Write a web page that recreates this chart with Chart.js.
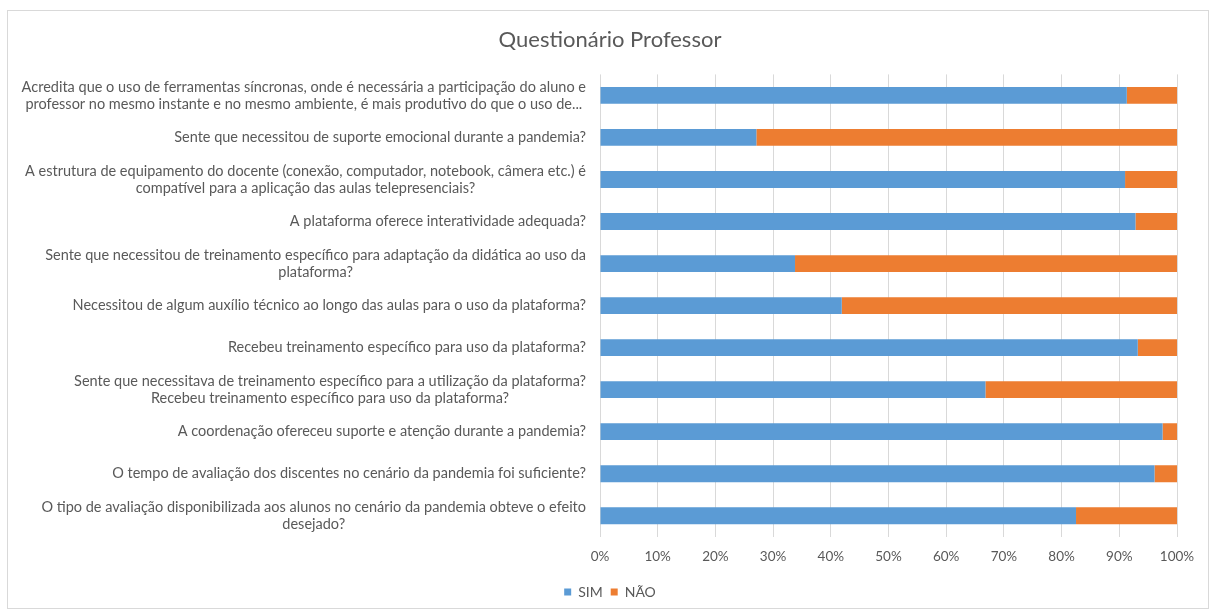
<!DOCTYPE html>
<html>
<head>
<meta charset="utf-8">
<script src="https://cdn.jsdelivr.net/npm/chart.js@4"></script>
<style>
  html, body { margin: 0; padding: 0; background: #fff; }
  #chart { width: 1209px; height: 609px; }
</style>
</head>
<body>
<div id="chart"><canvas id="questionario"></canvas></div>
<script>
// Perguntas (uma linha por item do array)
const categories = [
  ["Acredita que o uso de ferramentas síncronas, onde é necessária a participação do aluno e",
   "professor no mesmo instante e no mesmo ambiente, é mais produtivo do que o uso de..."],
  ["Sente que necessitou de suporte emocional durante a pandemia?"],
  ["A estrutura de equipamento do docente (conexão, computador, notebook, câmera etc.) é",
   "compatível para a aplicação das aulas telepresenciais?"],
  ["A plataforma oferece interatividade adequada?"],
  ["Sente que necessitou de treinamento específico para adaptação da didática ao uso da",
   "plataforma?"],
  ["Necessitou de algum auxílio técnico ao longo das aulas para o uso da plataforma?"],
  ["Recebeu treinamento específico para uso da plataforma?"],
  ["Sente que necessitava de treinamento específico para a utilização da plataforma?",
   "Recebeu treinamento específico para uso da plataforma?"],
  ["A coordenação ofereceu suporte e atenção durante a pandemia?"],
  ["O tempo de avaliação dos discentes no cenário da pandemia foi suficiente?"],
  ["O tipo de avaliação disponibilizada aos alunos no cenário da pandemia obteve o efeito",
   "desejado?"]
];

// Percentual de respostas
const sim = [91.3, 27.1, 91.0, 92.8, 33.8, 41.9, 93.2, 66.8, 97.5, 96.1, 82.5];
const nao = [8.7, 72.9, 9.0, 7.2, 66.2, 58.1, 6.8, 33.2, 2.5, 3.9, 17.5];

const xTicks = [0, 10, 20, 30, 40, 50, 60, 70, 80, 90, 100];

const FONT = "Lato, 'Open Sans', sans-serif";
const GREY = "#595959";

// moldura e fundo branco
const frame = {
  id: "frame",
  beforeDraw(chart) {
    const { ctx, width, height } = chart;
    ctx.save();
    ctx.fillStyle = "#fff";
    ctx.fillRect(0, 0, width, height);
    ctx.strokeStyle = "#d9d9d9";
    ctx.lineWidth = 1;
    ctx.strokeRect(7.5, 10.5, width - 8, height - 11);
    ctx.restore();
  }
};

// rótulos das perguntas: bloco alinhado à direita, linhas centradas entre si
const questionLabels = {
  id: "questionLabels",
  afterDraw(chart) {
    const { ctx, chartArea, scales } = chart;
    const y = scales.y;
    ctx.save();
    ctx.font = "14.5px " + FONT;
    ctx.fillStyle = GREY;
    ctx.textAlign = "center";
    ctx.textBaseline = "middle";
    categories.forEach((lines, i) => {
      const yc = y.getPixelForValue(i);
      const w = Math.max(...lines.map((l) => ctx.measureText(l).width));
      const cx = chartArea.left - 14 - w / 2;
      lines.forEach((l, j) => {
        ctx.fillText(l, cx, yc + (j - (lines.length - 1) / 2) * 17);
      });
    });
    ctx.restore();
  }
};

new Chart(document.getElementById("questionario"), {
  type: "bar",
  data: {
    labels: categories.map((c) => c.join(" ")),
    datasets: [
      {
        label: "SIM",
        data: sim,
        backgroundColor: "#5B9BD5",
        categoryPercentage: 1,
        barPercentage: 0.4
      },
      {
        label: "NÃO",
        data: nao,
        backgroundColor: "#ED7D31",
        categoryPercentage: 1,
        barPercentage: 0.4
      }
    ]
  },
  options: {
    indexAxis: "y",
    responsive: true,
    maintainAspectRatio: false,
    animation: false,
    layout: { padding: { left: 25, right: 14, top: 10, bottom: 0 } },
    plugins: {
      title: {
        display: true,
        text: "Questionário Professor",
        color: GREY,
        font: { family: FONT, size: 22, weight: "normal" },
        padding: { top: 17, bottom: 21 }
      },
      legend: {
        position: "bottom",
        labels: {
          color: GREY,
          font: { family: FONT, size: 14 },
          usePointStyle: true,
          pointStyle: "rect",
          boxWidth: 7,
          boxHeight: 7,
          padding: 8
        }
      },
      tooltip: { enabled: true }
    },
    scales: {
      x: {
        stacked: true,
        min: 0,
        max: 100,
        afterBuildTicks(scale) {
          scale.ticks = xTicks.map((v) => ({ value: v }));
        },
        afterFit(scale) {
          scale.paddingRight = 32;
        },
        ticks: {
          color: GREY,
          font: { family: FONT, size: 13.5 },
          padding: 12,
          callback: (v) => v + "%"
        },
        grid: { color: "#d9d9d9", drawTicks: false },
        border: { display: false }
      },
      y: {
        stacked: true,
        ticks: { display: false },
        grid: { display: false },
        border: { display: false },
        afterFit(scale) {
          scale.width = 575;
        }
      }
    }
  },
  plugins: [frame, questionLabels]
});
</script>
</body>
</html>
